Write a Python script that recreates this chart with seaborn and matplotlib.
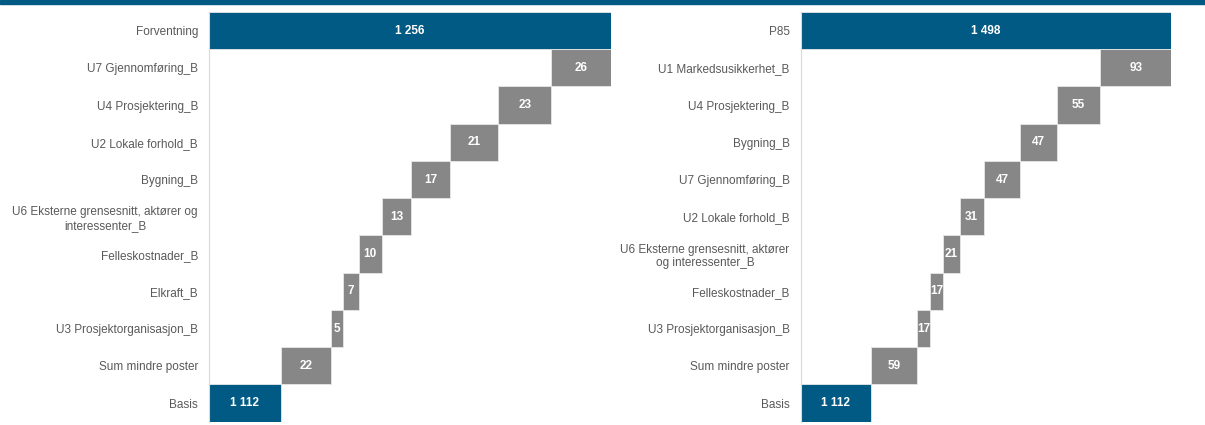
import matplotlib
matplotlib.use("Agg")
import matplotlib.pyplot as plt
import seaborn as sns
import pandas as pd

# Expected-cost waterfall (left) and P85 waterfall (right), values in MNOK
left_categories = [
    "Forventning",
    "U7 Gjennomføring_B",
    "U4 Prosjektering_B",
    "U2 Lokale forhold_B",
    "Bygning_B",
    "U6 Eksterne grensesnitt, aktører og\ninteressenter_B",
    "Felleskostnader_B",
    "Elkraft_B",
    "U3 Prosjektorganisasjon_B",
    "Sum mindre poster",
    "Basis",
]
left_values = [1256, 26, 23, 21, 17, 13, 10, 7, 5, 22, 1112]

right_categories = [
    "P85",
    "U1 Markedsusikkerhet_B",
    "U4 Prosjektering_B",
    "Bygning_B",
    "U7 Gjennomføring_B",
    "U2 Lokale forhold_B",
    "U6 Eksterne grensesnitt, aktører\nog interessenter_B",
    "Felleskostnader_B",
    "U3 Prosjektorganisasjon_B",
    "Sum mindre poster",
    "Basis",
]
right_values = [1498, 93, 55, 47, 47, 31, 21, 17, 17, 59, 1112]

left_xlim = (1080.7, 1256)
right_xlim = (1021.5, 1498)

BLUE = "#005a84"
GREY = "#878787"
LABEL_GREY = "#595959"

sns.set_theme(style="white")
plt.rcParams["font.family"] = ["Liberation Sans", "DejaVu Sans"]

fig = plt.figure(figsize=(12.05, 4.25), dpi=100)

# thin band across the top of the figure
fig.patches.append(plt.Rectangle((0, 1 - 4 / 425), 1, 4 / 425, transform=fig.transFigure,
                                 color=BLUE, zorder=0))


def waterfall(ax, categories, values, xlim):
    df = pd.DataFrame({"category": categories, "value": values})
    n = len(values)
    # total bar (top) and basis (bottom) are blue, increments grey
    df["kind"] = ["total"] + ["step"] * (n - 2) + ["total"]
    sns.barplot(data=df, x="value", y="category", hue="kind",
                palette={"total": BLUE, "step": GREY}, saturation=1, dodge=False,
                width=1.0, orient="y", legend=False, ax=ax,
                edgecolor="#e8e8e8", linewidth=0.6)

    # floating starts: basis from zero, each step stacked on the running sum
    starts = [0.0] * n
    running = values[-1]
    for i in range(n - 2, 0, -1):
        starts[i] = running
        running += values[i]

    bars = sorted(ax.patches, key=lambda p: p.get_y())
    for bar, start, val in zip(bars, starts, values):
        bar.set_x(start)
        bar.set_width(val)
        lo = max(start, xlim[0])
        cx = lo + (start + val - lo) / 2
        txt = f"{val:,}".replace(",", " ")
        ax.text(cx, bar.get_y() + bar.get_height() / 2, txt, ha="center", va="center",
                color="white", fontsize=8.5, fontweight="bold")

    ax.set_xlim(*xlim)
    ax.set_ylim(n - 0.5, -0.5)
    ax.set_xlabel("")
    ax.set_ylabel("")
    ax.set_xticks([])
    for s in ["top", "right", "bottom"]:
        ax.spines[s].set_visible(False)
    ax.spines["left"].set_color("#d9d9d9")
    ax.spines["left"].set_linewidth(0.8)
    ax.tick_params(axis="y", length=0, pad=8, labelsize=8.5, labelcolor=LABEL_GREY)
    for lab in ax.get_yticklabels():
        lab.set_multialignment("center")
        lab.set_linespacing(1.15)


ax_left = fig.add_axes([209 / 1205, 1 - 421.7 / 425, (610.7 - 209) / 1205, (421.7 - 12) / 425])
ax_right = fig.add_axes([800.7 / 1205, 1 - 421.7 / 425, (1171 - 800.7) / 1205, (421.7 - 12) / 425])

waterfall(ax_left, left_categories, left_values, left_xlim)
waterfall(ax_right, right_categories, right_values, right_xlim)

fig.savefig("out.png", dpi=100, facecolor="white")
